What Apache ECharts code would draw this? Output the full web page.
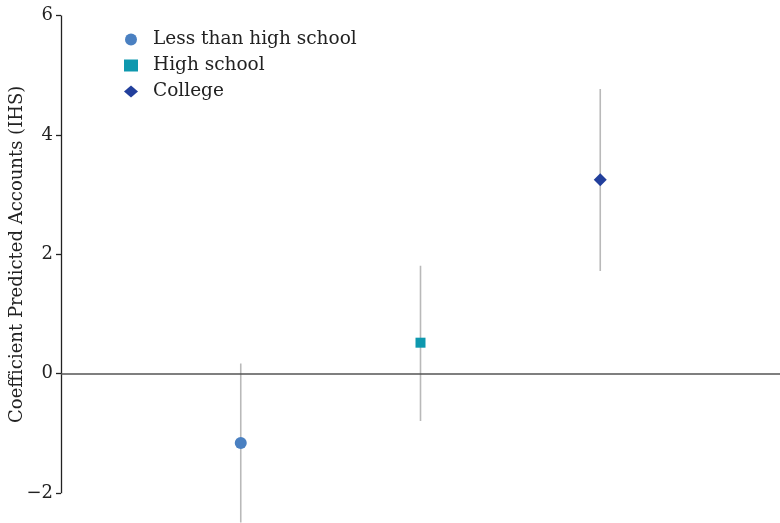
<!DOCTYPE html>
<html>
<head>
<meta charset="utf-8">
<script src="https://cdn.jsdelivr.net/npm/echarts@6/dist/echarts.min.js"></script>
<style>
  html, body { margin: 0; padding: 0; background: #fff; }
  #chart { width: 780px; height: 523px; }
</style>
</head>
<body>
<div id="chart"></div>
<script>
// Education groups, their coefficient estimates and confidence bounds
const groups = ['Less than high school', 'High school', 'College'];
const positions = [1, 2, 3];
const estimates = [-1.16, 0.52, 3.25];
const lower = [-2.49, -0.79, 1.72];
const upper = [0.17, 1.81, 4.77];
const yTicks = [-2, 0, 2, 4, 6];
const yTitle = 'Coefficient Predicted Accounts (IHS)';

const colors = ['#4a80c1', '#0e98ae', '#223f9c'];
const symbols = ['circle', 'rect', 'diamond'];
const symbolSizes = [12, 10, 13];
const FONT = 'DejaVu Serif';

const chart = echarts.init(document.getElementById('chart'));

const pointSeries = groups.map((g, i) => ({
  name: g,
  type: 'scatter',
  z: 5,
  symbol: symbols[i],
  symbolSize: symbolSizes[i],
  itemStyle: { color: colors[i], opacity: 1 },
  data: [[positions[i], estimates[i]]]
}));

// Vertical interval bars
const intervalSeries = {
  type: 'custom',
  z: 2,
  silent: true,
  clip: true,
  data: positions.map((p, i) => [p, lower[i], upper[i]]),
  renderItem: function (params, api) {
    const a = api.coord([api.value(0), api.value(1)]);
    const b = api.coord([api.value(0), api.value(2)]);
    return {
      type: 'line',
      shape: { x1: a[0], y1: a[1], x2: b[0], y2: b[1] },
      style: { stroke: '#b9b9b9', lineWidth: 1.6 }
    };
  }
};

// Axis domain line and zero reference line
const guideSeries = {
  type: 'line',
  data: [],
  silent: true,
  markLine: {
    silent: true,
    symbol: 'none',
    label: { show: false },
    animation: false,
    data: [
      [{ coord: [0, yTicks[0]], lineStyle: { color: '#222', width: 1.3, type: 'solid' } },
       { coord: [0, yTicks[yTicks.length - 1]] }],
      [{ coord: [0, 0], lineStyle: { color: '#555', width: 1.6, type: 'solid' } },
       { coord: [4, 0] }]
    ]
  }
};

chart.setOption({
  animation: false,
  grid: { left: 61, right: 0, top: 15.5, bottom: 0, containLabel: false, outerBoundsMode: 'none' },
  legend: {
    orient: 'vertical',
    left: 119,
    top: 25,
    itemGap: 7,
    itemWidth: 14,
    itemHeight: 12,
    data: groups,
    textStyle: { fontFamily: FONT, fontSize: 18.5, lineHeight: 18, color: '#222', padding: [0, 0, 0, 10] }
  },
  xAxis: {
    type: 'value',
    min: 0,
    max: 4,
    show: false
  },
  yAxis: {
    type: 'value',
    min: -2.5,
    max: 6,
    axisLine: { show: false },
    splitLine: { show: false },
    axisTick: {
      show: true,
      length: 5,
      customValues: yTicks,
      lineStyle: { color: '#222', width: 1.3 }
    },
    axisLabel: {
      customValues: yTicks,
      margin: 8,
      fontFamily: FONT,
      fontSize: 18,
      color: '#222',
      formatter: v => String(v).replace('-', '\u2212')
    }
  },
  series: [intervalSeries, guideSeries, ...pointSeries]
});

// Axis title, centred on the ticked domain of the y axis
const yTop = chart.convertToPixel({ gridIndex: 0 }, [0, yTicks[yTicks.length - 1]])[1];
const yBottom = chart.convertToPixel({ gridIndex: 0 }, [0, yTicks[0]])[1];
chart.setOption({
  graphic: [{
    type: 'text',
    x: 17,
    y: (yTop + yBottom) / 2,
    rotation: Math.PI / 2,
    style: {
      text: yTitle,
      fontFamily: FONT,
      fontSize: 18,
      fill: '#222',
      align: 'center',
      verticalAlign: 'middle'
    }
  }]
});
</script>
</body>
</html>
